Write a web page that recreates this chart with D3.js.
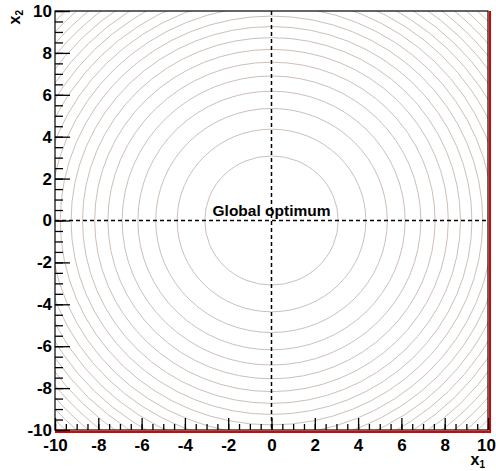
<!DOCTYPE html>
<html>
<head>
<meta charset="utf-8">
<script src="https://cdn.jsdelivr.net/npm/d3@7"></script>
<style>
  body { margin: 0; background: #fff; }
  svg { display: block; }
  .tick text { font-family: "Liberation Sans", Arial, sans-serif; font-weight: bold; font-size: 17px; fill: #000; }
</style>
</head>
<body>
<div id="chart"></div>
<script>
// contour levels of f(x1,x2) = x1^2 + x2^2
const contour_levels = [9.5, 19, 28.6, 38.1, 47.6, 57.1, 66.7, 76.2, 85.7, 95.2,
  104.8, 114.3, 123.8, 133.3, 142.9, 152.4, 161.9, 171.4, 181, 190.5];
const x_domain = [-10, 10];
const y_domain = [-10, 10];
const major_ticks = [-10, -8, -6, -4, -2, 0, 2, 4, 6, 8, 10];
const minor_ticks = d3.range(-10, 10.01, 0.5);
const optimum = { x: 0, y: 0, label: "Global optimum" };

const width = 496, height = 471;
const plot_left = 55, plot_right = 488, plot_top = 11, plot_bottom = 430;

const svg = d3.select("#chart").append("svg")
  .attr("width", width)
  .attr("height", height);

const x = d3.scaleLinear().domain(x_domain).range([plot_left, plot_right]);
const y = d3.scaleLinear().domain(y_domain).range([plot_bottom, plot_top]);

svg.append("clipPath").attr("id", "plot-clip")
  .append("rect")
  .attr("x", plot_left).attr("y", plot_top)
  .attr("width", plot_right - plot_left).attr("height", plot_bottom - plot_top);

// contours
svg.append("g")
  .attr("clip-path", "url(#plot-clip)")
  .selectAll("ellipse")
  .data(contour_levels)
  .enter()
  .append("ellipse")
    .attr("cx", x(optimum.x))
    .attr("cy", y(optimum.y))
    .attr("rx", d => x(Math.sqrt(d)) - x(0))
    .attr("ry", d => y(0) - y(Math.sqrt(d)))
    .style("fill", "none")
    .style("stroke", "#cdc0b8")
    .style("stroke-width", 1);

// dashed lines through the optimum
svg.append("line")
  .attr("x1", x(optimum.x)).attr("x2", x(optimum.x))
  .attr("y1", plot_top).attr("y2", plot_bottom)
  .style("stroke", "#000").style("stroke-width", 1.5)
  .style("stroke-dasharray", "4,3");
svg.append("line")
  .attr("x1", plot_left).attr("x2", plot_right)
  .attr("y1", y(optimum.y)).attr("y2", y(optimum.y))
  .style("stroke", "#000").style("stroke-width", 1.5)
  .style("stroke-dasharray", "4,3");

svg.append("text")
  .attr("x", x(optimum.x))
  .attr("y", y(optimum.y) - 5)
  .attr("text-anchor", "middle")
  .style("font-family", "Liberation Sans, Arial, sans-serif")
  .style("font-weight", "bold")
  .style("font-size", "15.5px")
  .text(optimum.label);

// red shadow of the frame
svg.append("line")
  .attr("x1", plot_left).attr("x2", plot_right + 3)
  .attr("y1", plot_bottom + 2).attr("y2", plot_bottom + 2)
  .style("stroke", "#e00000").style("stroke-width", 2);
svg.append("line")
  .attr("x1", plot_right + 2).attr("x2", plot_right + 2)
  .attr("y1", plot_top).attr("y2", plot_bottom + 3)
  .style("stroke", "#e00000").style("stroke-width", 2);

// axes (ticks pointing inwards)
svg.append("g")
  .attr("transform", "translate(0," + plot_bottom + ")")
  .call(d3.axisBottom(x).tickValues(minor_ticks).tickSize(-6).tickFormat(""))
  .call(g => g.select(".domain").remove());
svg.append("g")
  .attr("transform", "translate(0," + plot_bottom + ")")
  .call(d3.axisBottom(x).tickValues(major_ticks).tickSize(-12).tickPadding(9).tickFormat(d3.format("d")))
  .call(g => g.select(".domain").remove())
  // keep the last label inside the window
  .call(g => g.selectAll(".tick").filter(d => d === x_domain[1]).select("text").attr("dx", -2));

svg.append("g")
  .attr("transform", "translate(" + plot_left + ",0)")
  .call(d3.axisLeft(y).tickValues(minor_ticks).tickSize(-8).tickFormat(""))
  .call(g => g.select(".domain").remove());
svg.append("g")
  .attr("transform", "translate(" + plot_left + ",0)")
  .call(d3.axisLeft(y).tickValues(major_ticks).tickSize(-15).tickPadding(3).tickFormat(d3.format("d")))
  .call(g => g.select(".domain").remove());

svg.selectAll(".tick line").style("stroke", "#000").style("stroke-width", 1.3);
svg.selectAll(".tick text").text(function() { return this.textContent.replace("\u2212", "-"); });

// frame
svg.append("rect")
  .attr("x", plot_left).attr("y", plot_top)
  .attr("width", plot_right - plot_left).attr("height", plot_bottom - plot_top)
  .style("fill", "none")
  .style("stroke", "#000")
  .style("stroke-width", 1.2);

// axis titles
const x1 = svg.append("text")
  .attr("x", plot_right - 3)
  .attr("y", 465)
  .attr("text-anchor", "end")
  .style("font-family", "Liberation Sans, Arial, sans-serif")
  .style("font-weight", "bold")
  .style("font-size", "16px");
x1.append("tspan").text("x");
x1.append("tspan").attr("dy", 3).style("font-size", "10px").text("1");

const x2 = svg.append("text")
  .attr("transform", "translate(20,10) rotate(-90)")
  .attr("text-anchor", "end")
  .style("font-family", "Liberation Sans, Arial, sans-serif")
  .style("font-weight", "bold")
  .style("font-size", "16px");
x2.append("tspan").text("x");
x2.append("tspan").attr("dy", 3).style("font-size", "10px").text("2");
</script>
</body>
</html>
